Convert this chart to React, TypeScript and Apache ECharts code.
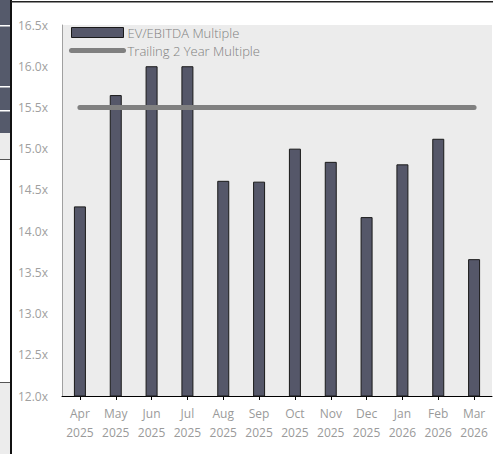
import React, { useEffect, useRef } from "react";
import * as echarts from "echarts";

const months = ["Apr", "May", "Jun", "Jul", "Aug", "Sep", "Oct", "Nov", "Dec", "Jan", "Feb", "Mar"];
const years = ["2025", "2025", "2025", "2025", "2025", "2025", "2025", "2025", "2025", "2026", "2026", "2026"];
const evEbitda = [14.3, 15.65, 16.0, 16.0, 14.61, 14.6, 15.0, 14.84, 14.17, 14.81, 15.12, 13.66];
const trailing = [15.5, 15.5, 15.5, 15.5, 15.5, 15.5, 15.5, 15.5, 15.5, 15.5, 15.5, 15.5];
const seriesNames = ["EV/EBITDA Multiple", "Trailing 2 Year Multiple"];

export default function App() {
  const ref = useRef<HTMLDivElement>(null);
  useEffect(() => {
    if (!ref.current) return;
    const chart = echarts.init(ref.current, null, { renderer: "svg" });
    const font = "'Open Sans', 'Noto Sans', sans-serif";
    const categories = months.map((m, i) => m + "\n" + years[i]);
    chart.setOption({
      animation: false,
      backgroundColor: "#ffffff",
      textStyle: { fontFamily: font },
      grid: {
        left: 62,
        right: 1,
        top: 25,
        bottom: 58,
        show: true,
        backgroundColor: "#ececec",
        borderWidth: 0,
      },
      legend: {
        orient: "vertical",
        left: 64,
        top: 21,
        itemWidth: 52,
        itemHeight: 10,
        itemGap: 5,
        textStyle: { color: "#808080", fontSize: 13, fontFamily: font, fontWeight: 300, padding: [0, 0, 0, -1] },
        data: [
          { name: seriesNames[0], icon: "rect", itemStyle: { borderWidth: 1, borderColor: "#1a1a1a" } },
          {
            name: seriesNames[1],
            itemStyle: { color: "rgba(0,0,0,0)", borderColor: "rgba(0,0,0,0)", borderWidth: 0, opacity: 0 },
            lineStyle: { color: "#808080", width: 5, cap: "round" },
          },
        ],
      },
      xAxis: {
        type: "category",
        data: categories,
        axisLine: { show: true, lineStyle: { color: "#000000", width: 1 } },
        axisTick: { show: true, alignWithLabel: true, length: 4, lineStyle: { color: "#000000" } },
        axisLabel: { color: "#9a9a9a", fontSize: 12, lineHeight: 19, margin: 8, fontFamily: font, interval: 0 },
        splitLine: { show: false },
      },
      yAxis: {
        type: "value",
        min: 12,
        max: 16.5,
        interval: 0.5,
        axisLine: { show: true, lineStyle: { color: "#a0a0a0", width: 1 } },
        axisTick: { show: false },
        splitLine: { show: false },
        axisLabel: {
          color: "#a0a0a0",
          fontSize: 12,
          margin: 14,
          fontFamily: font,
          formatter: (v: number) => v.toFixed(1) + "x",
        },
      },
      series: [
        {
          name: seriesNames[0],
          type: "bar",
          data: evEbitda,
          barWidth: 12,
          itemStyle: { color: "#555769", borderColor: "#1a1a1a", borderWidth: 1 },
        },
        {
          name: seriesNames[1],
          type: "line",
          data: trailing,
          symbol: "none",
          lineStyle: { color: "#808080", width: 5, cap: "round" },
          itemStyle: { color: "#808080" },
        },
      ],
      graphic: [
        { type: "rect", shape: { x: 0, y: 0, width: 10, height: 133 }, style: { fill: "#555a6b" }, silent: true },
        { type: "rect", shape: { x: 0, y: 25, width: 10, height: 1.5 }, style: { fill: "#ffffff" }, silent: true },
        { type: "rect", shape: { x: 0, y: 86, width: 10, height: 1.5 }, style: { fill: "#ffffff" }, silent: true },
        { type: "rect", shape: { x: 0, y: 110, width: 10, height: 1.5 }, style: { fill: "#ffffff" }, silent: true },
        { type: "rect", shape: { x: 0, y: 133, width: 10, height: 26 }, style: { fill: "#ececec" }, silent: true },
        { type: "rect", shape: { x: 0, y: 159, width: 10, height: 1 }, style: { fill: "#555555" }, silent: true },
        { type: "rect", shape: { x: 0, y: 382, width: 10, height: 1 }, style: { fill: "#555555" }, silent: true },
        { type: "rect", shape: { x: 0, y: 383, width: 10, height: 71 }, style: { fill: "#ececec" }, silent: true },
        { type: "rect", shape: { x: 10, y: 0, width: 2, height: 454 }, style: { fill: "#111111" }, silent: true },
        { type: "rect", shape: { x: 11, y: 1, width: 482, height: 1.5 }, style: { fill: "#222222" }, silent: true },
      ],
    });
    return () => chart.dispose();
  }, []);
  return (
    <div
      ref={ref}
      style={{ position: "fixed", left: 0, top: 0, width: 493, height: 454 }}
    />
  );
}
